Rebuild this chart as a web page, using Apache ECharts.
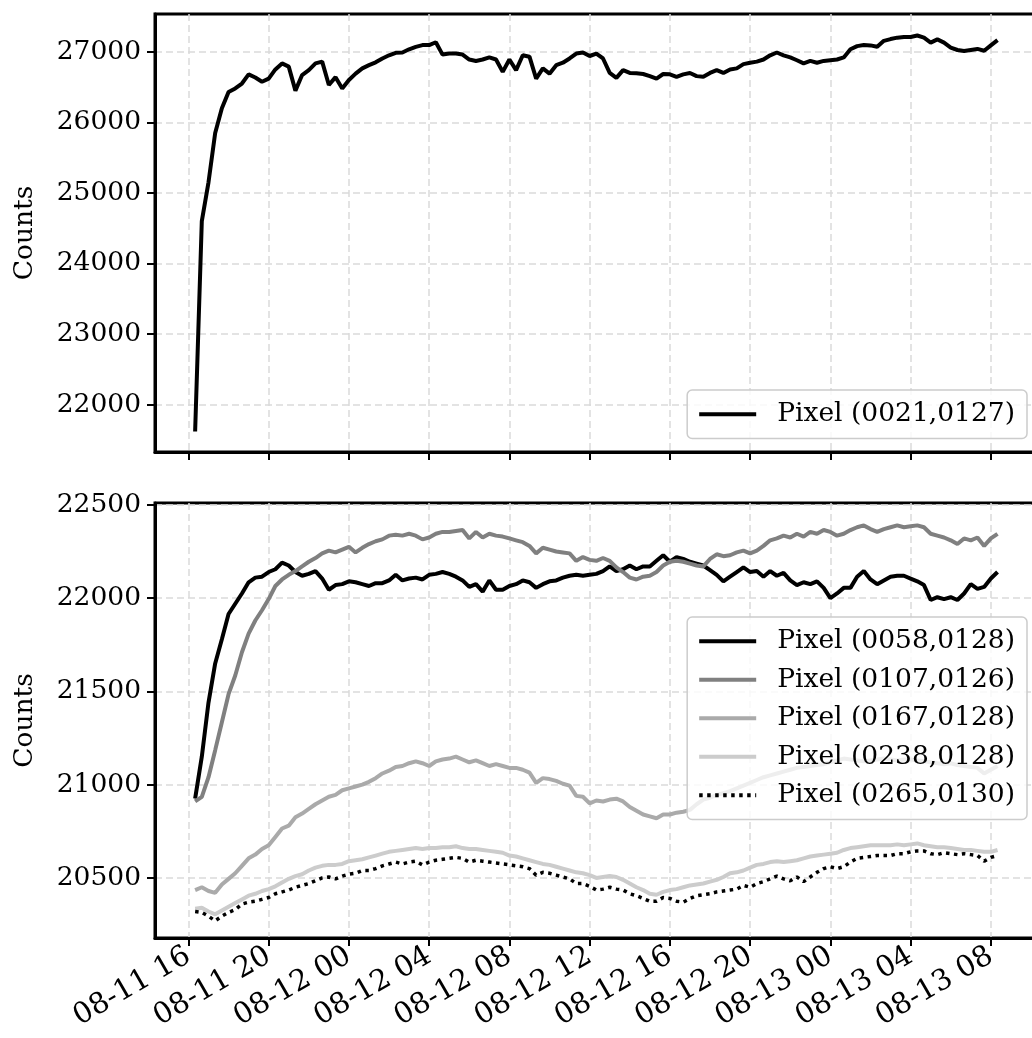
<!DOCTYPE html>
<html>
<head>
<meta charset="utf-8">
<title>Pixel counts</title>
<script src="https://cdn.jsdelivr.net/npm/echarts@6/dist/echarts.min.js"></script>
<style>
  html, body { margin: 0; padding: 0; background: #fff; overflow: hidden; }
  #chart { width: 1100px; height: 1038px; }
</style>
</head>
<body>
<div id="chart"></div>
<script>
// Sampling: one reading every 20 minutes, starting 08-11 16:20
const START = '08-11 16:20';
const STEP_MINUTES = 20;

// Tick labels
const timeTicks = ['08-11 16', '08-11 20', '08-12 00', '08-12 04', '08-12 08', '08-12 12',
                   '08-12 16', '08-12 20', '08-13 00', '08-13 04', '08-13 08'];
const topTicks = [22000, 23000, 24000, 25000, 26000, 27000];
const bottomTicks = [20500, 21000, 21500, 22000, 22500];

// Series names
const topName = 'Pixel (0021,0127)';
const bottomNames = ['Pixel (0058,0128)', 'Pixel (0107,0126)', 'Pixel (0167,0128)',
                     'Pixel (0238,0128)', 'Pixel (0265,0130)'];

// Counts
const pixel0021_0127 = [21620,24600,25150,25850,26200,26430,26480,26550,26680,26635,26575,
  26620,26750,26835,26790,26450,26670,26740,26835,26860,26530,26640,26480,
  26600,26690,26765,26810,26850,26905,26950,26985,26990,27035,27070,27095,
  27095,27135,26960,26975,26975,26960,26890,26870,26890,26920,26890,26715,
  26890,26740,26950,26930,26620,26765,26690,26810,26845,26905,26975,26990,
  26940, 26975,26905, 26700,26630,26740,26700,26695,26685,26655,26620,26685,
  26680,26645,26680,26700,26655,26645,26700,26740,26700,26750,26765,26825,
  26845,26860,26890,26950,26990,26950,26920,26880,26835,26870,26845,26870,
  26880,26890,26920,27035,27080,27095,27090,27070,27155,27180,27200,27210,
  27210,27230,27200,27130,27175,27130,27060,27025,27010,27025,27040,27015,
  27090,27165];

const pixel0058_0128 = [20925,21150,21440,21650,21780,21915,21970,22025,22085,22110,22115,
  22140,22155,22190,22175,22140,22120,22130,22145,22105,22045,22070,22075,
  22090,22085,22075,22065,22080,22080,22095,22125,22095,22105,22110,22100,
  22125,22130,22140,22130,22115,22095,22060,22075,22035,22095,22045,22045,
  22065,22075,22095,22085,22055,22075,22090,22095,22110,22120,22125,22120,
  22125, 22130,22145, 22170,22145,22155,22175,22155,22170,22170,22200,22230,
  22195,22220,22210,22195,22185,22175,22150,22125,22090,22115,22140,22165,
  22140,22145,22115,22145,22120,22135,22095,22070,22085,22075,22090,22055,
  22000,22025,22055,22055,22115,22145,22100,22075,22095,22115,22120,22120,
  22105,22090,22070,21990,22005,21995,22005,21990,22025,22075,22050,22060,
  22105,22140];

const pixel0107_0126 = [20910,20935,21040,21185,21335,21485,21585,21710,21810,21880,21935,
  21995,22065,22100,22125,22145,22170,22195,22215,22240,22255,22245,22260,
  22275,22245,22270,22290,22305,22315,22335,22340,22335,22345,22335,22315,
  22325,22345,22355,22355,22360,22365,22320,22355,22325,22345,22335,22330,
  22320,22310,22300,22280,22240,22270,22260,22250,22245,22240,22200,22220,
  22205, 22200,22215, 22200,22165,22140,22110,22100,22115,22120,22140,22175,
  22195,22200,22195,22185,22175,22170,22210,22235,22225,22230,22245,22255,
  22240,22255,22280,22310,22320,22335,22325,22345,22330,22355,22345,22365,
  22355,22335,22345,22365,22380,22390,22370,22355,22370,22380,22390,22380,
  22385,22390,22380,22345,22335,22325,22310,22290,22320,22310,22325,22280,
  22320,22345];

const pixel0167_0128 = [20435,20450,20430,20420,20465,20495,20525,20565,20605,20625,20655,
  20675,20720,20765,20780,20825,20845,20870,20895,20915,20935,20945,20970,
  20980,20990,21000,21015,21035,21060,21075,21095,21100,21115,21125,21115,
  21100,21125,21135,21140,21150,21135,21120,21130,21115,21100,21110,21100,
  21090,21090,21080,21065,21010,21035,21030,21020,21005,20995,20940,20935,
  20900, 20915,20910, 20920,20925,20910,20880,20860,20840,20830,20820,20840,
  20840,20850,20855,20865,20895,20920,20930,20945,20955,20965,20980,20995,
  21010,21025,21040,21050,21060,21070,21080,21090,21095,21100,21105,21110,
  21120,21130,21140,21135,21130,21125,21130,21135,21140,21135,21130,21135,
  21135,21130,21125,21120,21115,21110,21115,21105,21100,21095,21090,21060,
  21080,21100];

const pixel0238_0128 = [20335,20340,20320,20305,20325,20345,20365,20385,20405,20415,20430,
  20440,20455,20475,20495,20510,20520,20540,20555,20565,20570,20570,20575,
  20590,20595,20600,20610,20620,20630,20640,20645,20650,20655,20660,20655,
  20660,20660,20665,20665,20670,20660,20655,20655,20650,20645,20640,20635,
  20620,20615,20605,20595,20585,20575,20570,20560,20550,20540,20530,20525,
  20515, 20500,20505, 20510,20505,20490,20470,20450,20435,20415,20410,20425,
  20435,20440,20450,20460,20465,20470,20480,20490,20505,20525,20530,20540,
  20555,20570,20575,20585,20590,20585,20590,20595,20605,20615,20620,20625,
  20630,20635,20650,20660,20665,20670,20675,20675,20675,20675,20680,20675,
  20680,20685,20675,20670,20665,20665,20660,20655,20650,20650,20645,20640,
  20640,20650];

const pixel0265_0130 = [20320,20315,20295,20270,20295,20315,20330,20360,20370,20375,20385,
  20395,20415,20425,20435,20450,20460,20470,20485,20500,20505,20495,20510,
  20520,20525,20540,20540,20550,20565,20575,20585,20575,20585,20590,20570,
  20585,20595,20600,20605,20610,20605,20585,20595,20590,20585,20580,20575,
  20570,20565,20560,20550,20515,20530,20525,20515,20505,20495,20470,20470,
  20455, 20435,20440, 20450,20440,20435,20415,20405,20390,20375,20375,20395,
  20390,20375,20370,20390,20405,20410,20415,20425,20430,20435,20440,20460,
  20450,20470,20480,20495,20510,20495,20485,20505,20480,20505,20530,20550,
  20560,20550,20560,20585,20605,20610,20615,20620,20620,20620,20630,20630,
  20640,20645,20645,20630,20625,20635,20630,20625,20630,20625,20620,20590,
  20610,20620];

// 'MM-DD HH' or 'MM-DD HH:MM' -> hours since 08-11 00:00
function hoursOf(s) {
  const [md, hm] = s.split(' ');
  const d = Number(md.split('-')[1]);
  const [h, mi] = (hm.includes(':') ? hm : hm + ':00').split(':').map(Number);
  return (d - 11) * 24 + h + mi / 60;
}

const t0 = hoursOf(START);
const step = STEP_MINUTES / 60;
const withTime = vals => vals.map((v, i) => [t0 + i * step, v]);

const tickHours = timeTicks.map(hoursOf);
const xMin = hoursOf('08-11 14:20');
const xMax = hoursOf('08-13 10:33');

const FONT = "'DejaVu Serif', 'Liberation Serif', serif";
const SIZE = 26.5;
const X_SIZE = 29;

const gridLine = { show: true, lineStyle: { color: '#dadada', width: 1.5, type: [7, 4] } };
const tick = { show: true, inside: false, length: 8, lineStyle: { color: '#000', width: 2 } };
const axisLine = { show: true, onZero: false, lineStyle: { color: '#000', width: 3 } };

function xAxis(gridIndex, showLabels) {
  return {
    type: 'value', gridIndex, min: xMin, max: xMax,
    axisLine, splitLine: gridLine,
    axisTick: Object.assign({ customValues: tickHours }, tick),
    axisLabel: {
      show: showLabels, customValues: tickHours, rotate: 30, margin: 16,
      fontFamily: FONT, fontSize: X_SIZE, color: '#000',
      formatter: v => {
        const i = tickHours.findIndex(t => Math.abs(t - v) < 1e-6);
        return i >= 0 ? timeTicks[i] : '';
      }
    }
  };
}

function yAxis(gridIndex, min, max, ticks) {
  return {
    type: 'value', gridIndex, min, max,
    name: 'Counts', nameLocation: 'middle', nameGap: 116,
    nameTextStyle: { fontFamily: FONT, fontSize: SIZE, color: '#000' },
    axisLine, splitLine: gridLine,
    axisTick: Object.assign({ customValues: ticks }, tick),
    axisLabel: {
      customValues: ticks, margin: 14, fontFamily: FONT, fontSize: SIZE, color: '#000',
      formatter: v => String(Math.round(v))
    }
  };
}

function line(name, data, color, gridIndex, extra) {
  return Object.assign({
    name, type: 'line', xAxisIndex: gridIndex, yAxisIndex: gridIndex,
    data: withTime(data), symbol: 'none', showSymbol: false,
    lineStyle: { color, width: 4 }, itemStyle: { color },
    emphasis: { disabled: true }, silent: true
  }, extra || {});
}

const legendBase = {
  orient: 'vertical', right: 73, itemWidth: 57, itemHeight: 14, itemGap: 8,
  backgroundColor: 'rgba(255,255,255,0.8)', borderColor: '#cccccc', borderWidth: 1.5,
  borderRadius: 5, padding: [9, 12, 9, 10], selectedMode: false,
  itemStyle: { opacity: 0 },
  lineStyle: { width: 4 },
  textStyle: { fontFamily: FONT, fontSize: SIZE, lineHeight: 30.5, color: '#000', padding: [0, 0, 0, 16] }
};

const chart = echarts.init(document.getElementById('chart'), null, { renderer: 'canvas' });
chart.setOption({
  animation: false,
  backgroundColor: '#fff',
  grid: [
    { left: 155, top: 14, width: 887, height: 438, show: true, borderColor: '#000', borderWidth: 3, backgroundColor: 'transparent' },
    { left: 155, top: 503, width: 887, height: 435, show: true, borderColor: '#000', borderWidth: 3, backgroundColor: 'transparent' }
  ],
  xAxis: [xAxis(0, false), xAxis(1, true)],
  yAxis: [yAxis(0, 21330, 27535, topTicks), yAxis(1, 20178, 22510, bottomTicks)],
  legend: [
    Object.assign({}, legendBase, { top: 390, data: [topName] }),
    Object.assign({}, legendBase, { top: 617, data: bottomNames })
  ],
  series: [
    line(topName, pixel0021_0127, '#000000', 0),
    line(bottomNames[0], pixel0058_0128, '#000000', 1),
    line(bottomNames[1], pixel0107_0126, '#808080', 1),
    line(bottomNames[2], pixel0167_0128, '#aaaaaa', 1),
    line(bottomNames[3], pixel0238_0128, '#cccccc', 1),
    line(bottomNames[4], pixel0265_0130, '#000000', 1, {
      lineStyle: { color: '#000000', width: 3.5, type: [3.5, 4.5], cap: 'butt' }
    })
  ]
});
</script>
</body>
</html>
